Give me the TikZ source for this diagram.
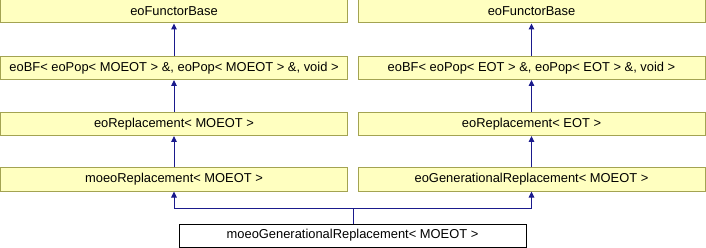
\documentclass[tikz,border=0pt]{standalone}
\usepackage{fontspec}
\setmainfont{Liberation Sans}
\usetikzlibrary{arrows.meta}
\definecolor{boxfill}{HTML}{FFFFC0}
\definecolor{boxline}{HTML}{A3A352}
\definecolor{edgecol}{HTML}{1A1A8C}
\begin{document}
\begin{tikzpicture}[x=1pt,y=-1pt,
  cls/.style={draw=boxline,fill=boxfill,line width=1pt,minimum width=347pt,minimum height=23pt,inner sep=0pt,font=\fontsize{12.9}{14}\selectfont},
  leaf/.style={draw=black,fill=white,line width=1pt,minimum width=347pt,minimum height=23pt,inner sep=0pt,font=\fontsize{12.9}{14}\selectfont},
  inh/.style={draw=edgecol,line width=1pt,-{Triangle[length=6pt,width=5.5pt]}}]
\useasboundingbox (0,0) rectangle (706,248);
\fill[white] (0,0) rectangle (706,248);
\node[cls] (l1) at (174,11.5) {eoFunctorBase};
\node[cls] (l2) at (174,68) {eoBF< eoPop< MOEOT > \&, eoPop< MOEOT > \&, void >};
\node[cls] (l3) at (174,124) {eoReplacement< MOEOT >};
\node[cls] (l4) at (174,179.5) {moeoReplacement< MOEOT >};
\node[cls] (r1) at (531.5,11.5) {eoFunctorBase};
\node[cls] (r2) at (531.5,68) {eoBF< eoPop< EOT > \&, eoPop< EOT > \&, void >};
\node[cls] (r3) at (531.5,124) {eoReplacement< EOT >};
\node[cls] (r4) at (531.5,179.5) {eoGenerationalReplacement< MOEOT >};
\node[leaf] (b) at (352.5,235.5) {moeoGenerationalReplacement< MOEOT >};
\draw[inh] (l2) -- (l1);
\draw[inh] (l3) -- (l2);
\draw[inh] (l4) -- (l3);
\draw[inh] (r2) -- (r1);
\draw[inh] (r3) -- (r2);
\draw[inh] (r4) -- (r3);
\coordinate (j) at (353,208);
\draw[edgecol,line width=1pt] (b.north -| j) -- (j);
\draw[inh] (j) -| (l4.south);
\draw[inh] (j) -| (r4.south);
\end{tikzpicture}
\end{document}
